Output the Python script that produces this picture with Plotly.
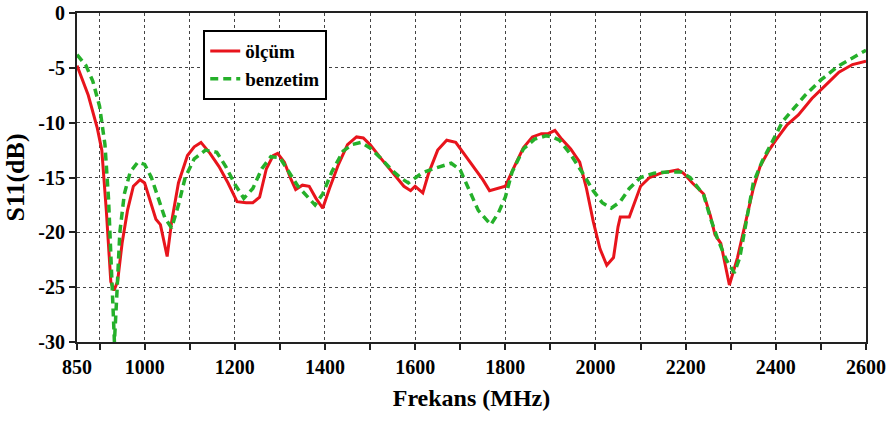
import plotly.graph_objects as go

# ölçüm (measured)
freq_olcum = [850, 875, 895, 905, 915, 925, 932, 940, 950, 962, 975, 990, 1000, 1015, 1025, 1035, 1050,
              1060, 1075, 1095, 1110, 1125, 1145, 1165, 1185, 1205, 1225, 1240, 1255, 1270, 1285, 1295,
              1310, 1325, 1335, 1350, 1365, 1380, 1395, 1410, 1430, 1450, 1470, 1485, 1500, 1525, 1550,
              1575, 1590, 1600, 1617, 1630, 1650, 1670, 1690, 1710, 1730, 1750, 1765, 1785, 1800, 1820,
              1840, 1860, 1880, 1895, 1910, 1925, 1945, 1965, 1980, 1995, 2010, 2025, 2040, 2050, 2055,
              2075, 2085, 2100, 2120, 2145, 2170, 2183, 2195, 2215, 2240, 2255, 2265, 2278, 2297, 2315,
              2335, 2350, 2365, 2385, 2400, 2425, 2450, 2480, 2510, 2540, 2570, 2600]
s11_olcum = [-4.8, -7.5, -10.5, -12.5, -18, -24.5, -25.3, -24.5, -21, -18, -15.8, -15.2, -15.5, -17.5, -18.8,
             -19.3, -22.2, -19, -15.5, -13, -12.2, -11.8, -12.8, -14, -15.5, -17.2, -17.3, -17.3, -16.8,
             -14.2, -13.0, -12.8, -13.6, -15.2, -16.1, -15.7, -15.8, -16.9, -17.8, -16, -13.8, -12.0,
             -11.3, -11.4, -12.0, -13.3, -14.6, -15.8, -16.2, -15.8, -16.4, -14.6, -12.5, -11.6, -11.8,
             -12.9, -14.0, -15.2, -16.2, -16.0, -15.8, -14, -12.3, -11.3, -11.0, -11.0, -10.7, -11.5,
             -12.4, -13.6, -16, -19, -21.5, -23.0, -22.3, -19.5, -18.6, -18.6, -17.5, -15.8, -15, -14.6,
             -14.4, -14.3, -14.6, -15.5, -16.5, -18.5, -20.2, -21, -24.8, -22.3, -18.7, -16, -14, -12.5,
             -11.6, -10.2, -9.3, -7.8, -6.6, -5.4, -4.7, -4.4]

# benzetim (simulated)
freq_benzetim = [850, 870, 885, 900, 912, 920, 927, 933, 938, 945, 955, 968, 985, 1000, 1015, 1030, 1045,
                 1060, 1075, 1090, 1110, 1135, 1160, 1180, 1200, 1220, 1240, 1260, 1280, 1300, 1320, 1340,
                 1360, 1378, 1395, 1415, 1440, 1460, 1480, 1500, 1525, 1550, 1570, 1585, 1595, 1615, 1640,
                 1665, 1680, 1700, 1720, 1740, 1768, 1785, 1800, 1815, 1840, 1865, 1890, 1905, 1920, 1945,
                 1970, 1995, 2015, 2035, 2055, 2075, 2100, 2130, 2160, 2190, 2210, 2240, 2255, 2270, 2290,
                 2308, 2320, 2335, 2350, 2370, 2395, 2415, 2440, 2465, 2500, 2540, 2570, 2600]
s11_benzetim = [-3.8, -4.8, -6.2, -8.5, -12, -17, -24, -30, -26, -20, -16.5, -14.5, -13.6, -13.8, -15,
                -16.8, -18.7, -19.6, -17.5, -15, -13.3, -12.5, -12.7, -14, -15.6, -16.9, -16, -14.2, -13.1,
                -13.2, -14.5, -15.8, -16.7, -17.5, -16.5, -14.5, -12.6, -12, -11.8, -12.3, -13.3, -14.4,
                -15.1, -15.5, -15.2, -14.6, -14.2, -13.9, -13.7, -14.3, -16.1, -18, -19.3, -18.2, -16.8,
                -14.5, -12.4, -11.5, -11.2, -11.3, -11.6, -12.9, -14.5, -16.2, -17.3, -17.8, -17.2, -16,
                -15, -14.6, -14.5, -14.5, -15, -16.6, -18.7, -20.5, -22.5, -23.7, -22.3, -19, -15.5, -13.5,
                -11.5, -9.9, -8.7, -7.5, -6.1, -4.8, -4.1, -3.4]

x_tickvals = [850, 900, 1000, 1100, 1200, 1300, 1400, 1500, 1600, 1700, 1800, 1900, 2000, 2100, 2200,
              2300, 2400, 2500, 2600]
x_ticktext = ["850", "", "1000", "", "1200", "", "1400", "", "1600", "", "1800", "", "2000", "", "2200",
              "", "2400", "", "2600"]
y_tickvals = [-30, -25, -20, -15, -10, -5, 0]
y_ticktext = ["-30", "-25", "-20", "-15", "-10", "-5", "0"]

FONT = "Liberation Serif"

fig = go.Figure()
fig.add_trace(go.Scatter(x=freq_olcum, y=s11_olcum, mode="lines", name="ölçüm",
                         line=dict(color="#e8141c", width=3)))
fig.add_trace(go.Scatter(x=freq_benzetim, y=s11_benzetim, mode="lines", name="benzetim",
                         line=dict(color="#25b02a", width=3.5, dash="8px,5px")))

fig.update_layout(
    width=888, height=421,
    margin=dict(l=77, r=22, t=13, b=79),
    paper_bgcolor="white", plot_bgcolor="white",
    font=dict(family=FONT, size=20, color="black", weight="bold"),
    legend=dict(x=0.16, y=0.948, xanchor="left", yanchor="top",
                bordercolor="black", borderwidth=2, bgcolor="white",
                font=dict(family=FONT, size=19, weight="bold"),
                tracegroupgap=0),
    xaxis=dict(range=[850, 2600], tickvals=x_tickvals, ticktext=x_ticktext,
               automargin=False,
               showgrid=True, gridcolor="#444", griddash="dot", gridwidth=1.3,
               showline=True, linecolor="#222", linewidth=2, mirror=True,
               ticks="outside", ticklen=6, tickcolor="#222", tickwidth=1.5,
               zeroline=False,
               tickfont=dict(family=FONT, size=20, weight="bold"),
               title=dict(text="Frekans (MHz)", standoff=12,
                          font=dict(family=FONT, size=24, weight="bold"))),
    yaxis=dict(range=[-30, 0], tickvals=y_tickvals, ticktext=y_ticktext,
               automargin=False,
               showgrid=True, gridcolor="#444", griddash="dot", gridwidth=1.3,
               showline=True, linecolor="#222", linewidth=2, mirror=True,
               ticks="outside", ticklen=6, tickcolor="#222", tickwidth=1.5,
               zeroline=False,
               tickfont=dict(family=FONT, size=20, weight="bold"),
               title=dict(text="S11(dB)", standoff=6,
                          font=dict(family=FONT, size=26, weight="bold"))),
)

fig.write_html("out.html")
